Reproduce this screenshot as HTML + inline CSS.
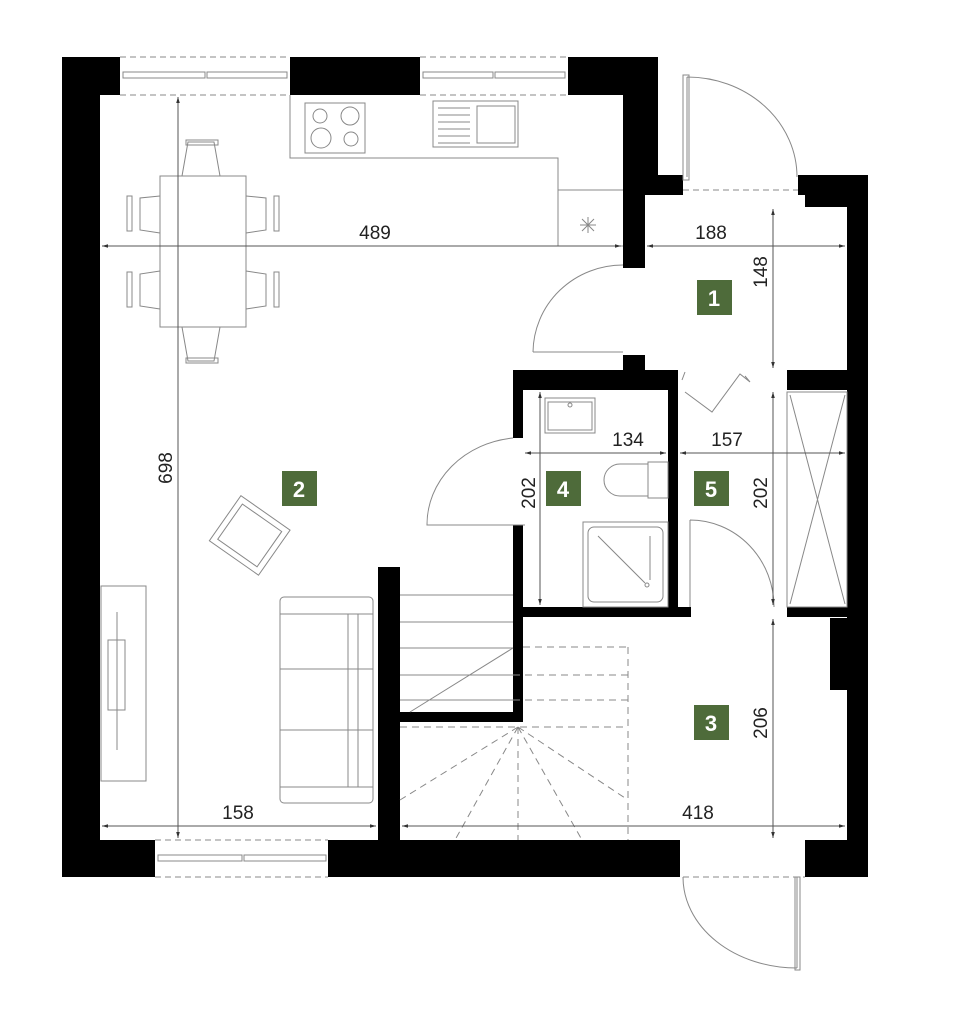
<!DOCTYPE html>
<html><head><meta charset="utf-8"><style>
html,body{margin:0;padding:0;background:#fff;}
svg{display:block}
text{font-family:"Liberation Sans",sans-serif;}
.d{font-size:19px;fill:#222}
.l{font-size:22px;font-weight:bold;fill:#fff}
</style></head><body>
<svg width="954" height="1024" viewBox="0 0 954 1024" xmlns="http://www.w3.org/2000/svg">
<defs>
<marker id="a" viewBox="0 0 10 10" refX="10" refY="5" markerWidth="6" markerHeight="6" orient="auto-start-reverse"><path d="M0,2 L10,5 L0,8z" fill="#333"/></marker>
</defs>
<g fill="#000">
<rect x="62" y="57" width="38" height="820"/>
<rect x="62" y="57" width="58" height="38"/>
<rect x="290" y="57" width="130" height="38"/>
<rect x="568" y="57" width="90" height="38"/>
<polygon points="623,57 658,57 658,175 683,175 683,195 645,195 645,268 623,268"/>
<polygon points="798,175 868,175 868,877 805,877 805,840 847,840 847,690 830,690 830,618 847,618 847,207 805,207 805,195 798,195"/>
<rect x="62" y="840" width="93" height="37"/>
<rect x="328" y="840" width="352" height="37"/>
<rect x="378" y="567" width="22" height="273"/>
<rect x="623" y="355" width="22" height="20"/>
<rect x="513" y="370" width="165" height="20"/>
<rect x="513" y="370" width="10" height="68"/>
<rect x="513" y="525" width="10" height="197"/>
<rect x="400" y="712" width="123" height="10"/>
<rect x="668" y="370" width="10" height="247"/>
<rect x="513" y="607" width="178" height="10"/>
<rect x="787" y="370" width="60" height="20"/>
<rect x="787" y="607" width="60" height="10"/>
</g>
<g fill="none" stroke="#888" stroke-width="1">
<!-- windows -->
<path d="M120,57H290M120,95H290M420,57H568M420,95H568M155,840H328M155,877H328M683,877H805M683,190H798" stroke-dasharray="6,4"/>
<rect x="123" y="72" width="82" height="6"/><rect x="207" y="72" width="80" height="6"/>
<rect x="423" y="72" width="70" height="6"/><rect x="495" y="72" width="70" height="6"/>
<rect x="158" y="855" width="84" height="6"/><rect x="244" y="855" width="82" height="6"/>
<!-- kitchen -->
<path d="M290,95V158H558V246H623"/>
<path d="M558,190H623"/>
<rect x="305" y="103" width="60" height="50"/>
<circle cx="320" cy="116" r="7"/><circle cx="350" cy="116" r="9"/><circle cx="321" cy="138" r="10"/><circle cx="351" cy="139" r="7"/>
<rect x="433" y="101" width="85" height="46"/>
<path d="M438,108H470M438,115H470M438,122H470M438,129H470M438,136H470M438,143H470"/>
<rect x="477" y="106" width="38" height="37"/>
<path d="M580,225L596,225M588,217V233M582,219L594,231M594,219L582,231"/>
<!-- table & chairs -->
<rect x="160" y="176" width="86" height="151"/>
<path d="M182,176L188,142H214L220,176M182,327L188,361H214L220,327"/>
<rect x="186" y="140" width="32" height="5"/><rect x="186" y="358" width="32" height="5"/>
<path d="M160,196L140,198V230L160,233M160,271L140,274V306L160,309M246,196L266,198V230L246,233M246,271L266,274V306L246,309"/>
<rect x="127" y="196" width="5" height="35"/><rect x="127" y="272" width="5" height="35"/>
<rect x="274" y="196" width="5" height="35"/><rect x="274" y="272" width="5" height="35"/>
<!-- armchair -->
<g transform="rotate(35 250 535)"><rect x="220" y="508" width="60" height="55"/><rect x="226" y="514" width="48" height="43"/></g>
<!-- tv -->
<rect x="101" y="586" width="45" height="195"/>
<rect x="108" y="640" width="17" height="70"/>
<path d="M117,612V750"/>
<!-- sofa -->
<rect x="280" y="597" width="93" height="206" rx="4"/>
<path d="M280,614H373M280,669H373M280,730H373M280,787H373M348,614V787M358,614V787"/>
<!-- room 4 -->
<rect x="545" y="398" width="50" height="35"/><rect x="548" y="402" width="44" height="28"/>
<circle cx="570" cy="405" r="2"/>
<path d="M620,464H648V496H620A16,16 0 0 1 620,464Z"/>
<rect x="648" y="462" width="20" height="36"/>
<rect x="583" y="522" width="85" height="85"/><rect x="588" y="527" width="75" height="75" rx="6"/>
<path d="M598,536L645,583M650,536V580"/><circle cx="647" cy="585" r="2"/>
<!-- wardrobe -->
<rect x="787" y="392" width="60" height="215"/>
<path d="M790,395L845,604M845,395L790,604"/>
<!-- doors -->
<path d="M687,77V177M687,77A110,100 0 0 1 797,177"/>
<rect x="683" y="75" width="6" height="105"/>
<path d="M533,352H623M533,352A90,88 0 0 1 623,265"/>
<path d="M525,525H427A96,87 0 0 1 513,438"/>
<path d="M690,520V607M690,520A84,87 0 0 1 774,607"/>
<path d="M797,877V968M683,877A114,91 0 0 0 797,968"/>
<rect x="795" y="877" width="5" height="93"/>
<path d="M685,392L712,412L740,374L750,382L745,376M685,372L682,380"/>
<!-- stairs -->
<path d="M400,595H513M400,622H513M400,648H513M400,675H513M400,700H513M410,712L513,648"/>
<g stroke-dasharray="7,5">
<path d="M523,647H628M513,675H628M513,700H628M400,727H628M628,647V840"/>
<path d="M518,727L400,800M518,727L455,840M518,727V840M518,727L582,840M518,727L628,800"/>
</g>
</g>
<!-- dimension lines -->
<g stroke="#555" stroke-width="1" fill="none">
<path d="M102,246H621" marker-start="url(#a)" marker-end="url(#a)"/>
<path d="M647,246H845" marker-start="url(#a)" marker-end="url(#a)"/>
<path d="M773,209V368" marker-start="url(#a)" marker-end="url(#a)"/>
<path d="M178,97V838" marker-start="url(#a)" marker-end="url(#a)"/>
<path d="M525,453H666" marker-start="url(#a)" marker-end="url(#a)"/>
<path d="M680,453H845" marker-start="url(#a)" marker-end="url(#a)"/>
<path d="M540,392V605" marker-start="url(#a)" marker-end="url(#a)"/>
<path d="M773,392V605" marker-start="url(#a)" marker-end="url(#a)"/>
<path d="M773,619V838" marker-start="url(#a)" marker-end="url(#a)"/>
<path d="M102,826H376" marker-start="url(#a)" marker-end="url(#a)"/>
<path d="M402,826H845" marker-start="url(#a)" marker-end="url(#a)"/>
</g>
<g class="d">
<text x="375" y="239" text-anchor="middle">489</text>
<text x="711" y="239" text-anchor="middle">188</text>
<text x="628" y="446" text-anchor="middle">134</text>
<text x="727" y="446" text-anchor="middle">157</text>
<text x="238" y="819" text-anchor="middle">158</text>
<text x="698" y="819" text-anchor="middle">418</text>
<text transform="translate(767,272) rotate(-90)" text-anchor="middle">148</text>
<text transform="translate(172,468) rotate(-90)" text-anchor="middle">698</text>
<text transform="translate(535,493) rotate(-90)" text-anchor="middle">202</text>
<text transform="translate(767,493) rotate(-90)" text-anchor="middle">202</text>
<text transform="translate(767,723) rotate(-90)" text-anchor="middle">206</text>
</g>
<g fill="#4e6b3a">
<rect x="697" y="280" width="35" height="35"/>
<rect x="282" y="471" width="35" height="35"/>
<rect x="546" y="471" width="35" height="35"/>
<rect x="694" y="471" width="35" height="35"/>
<rect x="694" y="705" width="35" height="35"/>
</g>
<g class="l" text-anchor="middle">
<text x="714" y="306">1</text>
<text x="299" y="497">2</text>
<text x="563" y="497">4</text>
<text x="711" y="497">5</text>
<text x="711" y="731">3</text>
</g>
</svg>
</body></html>
